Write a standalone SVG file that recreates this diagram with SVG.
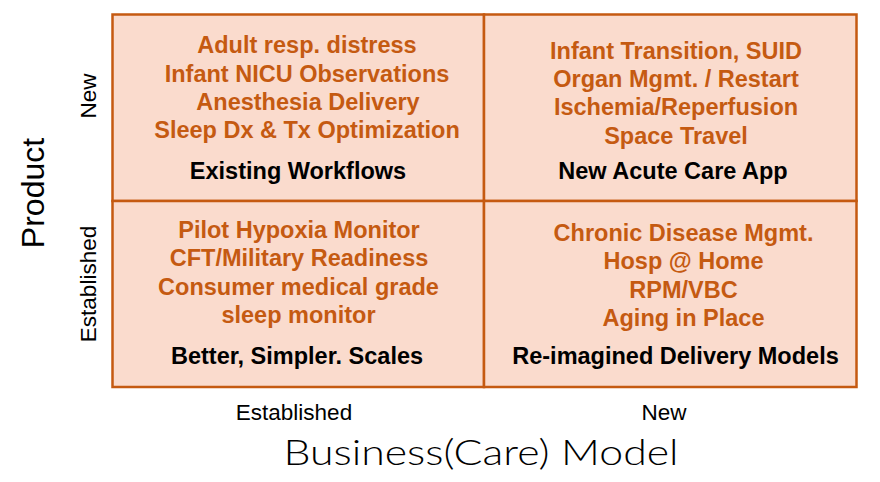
<svg xmlns="http://www.w3.org/2000/svg" width="880" height="482" viewBox="0 0 880 482">
<style>
.cell{fill:#FADBCD;stroke:#C55A11;stroke-width:2.5}
.o{font-family:"Liberation Sans",Arial,sans-serif;font-weight:bold;font-size:23.5px;fill:#C55A11;text-anchor:middle}
.b{font-family:"Liberation Sans",Arial,sans-serif;font-weight:bold;font-size:23.5px;fill:#000;text-anchor:middle}
.ax{font-family:"Liberation Sans",Arial,sans-serif;font-size:22.5px;fill:#000;text-anchor:middle}
</style>
<rect width="880" height="482" fill="#fff"/>
<g id="q-new-established">
<rect class="cell" x="112.5" y="14.5" width="371.5" height="186.5"/>
<text class="o" x="307" y="53">Adult resp. distress</text>
<text class="o" x="307" y="81.5">Infant NICU Observations</text>
<text class="o" x="308" y="109.5">Anesthesia Delivery</text>
<text class="o" x="307" y="138">Sleep Dx &amp; Tx Optimization</text>
<text class="b" x="298" y="178.5">Existing Workflows</text>
</g>
<g id="q-new-new">
<rect class="cell" x="484" y="14.5" width="372.5" height="186.5"/>
<text class="o" x="676" y="58.5">Infant Transition, SUID</text>
<text class="o" x="676" y="87">Organ Mgmt. / Restart</text>
<text class="o" x="676" y="115">Ischemia/Reperfusion</text>
<text class="o" x="676" y="143.5">Space Travel</text>
<text class="b" x="673" y="179">New Acute Care App</text>
</g>
<g id="q-established-established">
<rect class="cell" x="112.5" y="201" width="371.5" height="186"/>
<text class="o" x="299" y="237.5">Pilot Hypoxia Monitor</text>
<text class="o" x="299" y="266">CFT/Military Readiness</text>
<text class="o" x="298.5" y="294.5">Consumer medical grade</text>
<text class="o" x="298.5" y="322.5">sleep monitor</text>
<text class="b" x="297" y="364">Better, Simpler. Scales</text>
</g>
<g id="q-established-new">
<rect class="cell" x="484" y="201" width="372.5" height="186"/>
<text class="o" x="683.5" y="241">Chronic Disease Mgmt.</text>
<text class="o" x="683.5" y="269">Hosp @ Home</text>
<text class="o" x="683.5" y="297.5">RPM/VBC</text>
<text class="o" x="683.5" y="325.5">Aging in Place</text>
<text class="b" x="675.5" y="364">Re-imagined Delivery Models</text>
</g>
<g id="axes">
<text class="ax" x="294" y="420">Established</text>
<text class="ax" x="664" y="420">New</text>
<text x="481" y="465" font-family="Lato,'Open Sans',sans-serif" font-weight="300" font-size="35" text-anchor="middle" textLength="395" lengthAdjust="spacingAndGlyphs" fill="#000">Business(Care) Model</text>
<text class="ax" transform="translate(96,96) rotate(-90)">New</text>
<text class="ax" transform="translate(96,284) rotate(-90)">Established</text>
<text transform="translate(44,193) rotate(-90)" font-family="'Liberation Sans',Arial,sans-serif" font-size="32" text-anchor="middle" fill="#000">Product</text>
</g>
</svg>
